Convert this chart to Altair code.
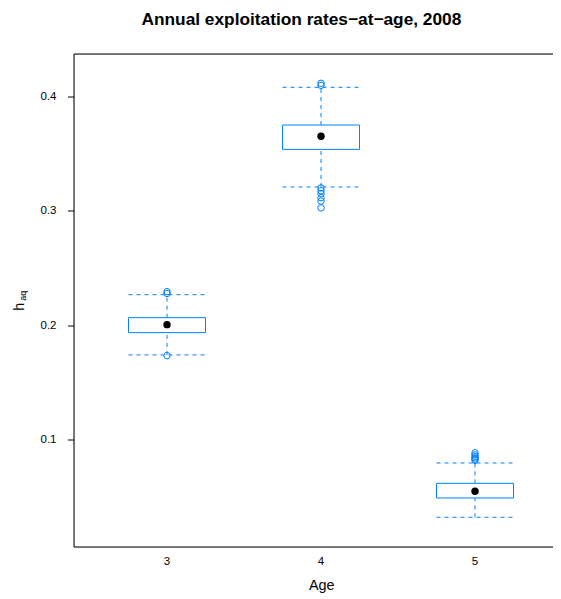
import altair as alt
import pandas as pd

# ---- data ----
ages = [3, 4, 5]
lower_whisker = [0.1744, 0.3213, 0.0324]
q1 = [0.1939, 0.3542, 0.0493]
median = [0.2009, 0.3656, 0.0551]
q3 = [0.2070, 0.3755, 0.0621]
upper_whisker = [0.2271, 0.4085, 0.0799]

outlier_age = [3, 3, 3,
               4, 4, 4, 4, 4, 4, 4, 4,
               5, 5, 5, 5, 5, 5]
outlier_value = [0.1738, 0.2282, 0.2297,
                 0.4102, 0.4120, 0.3205, 0.3180, 0.3155, 0.3120, 0.3090, 0.3030,
                 0.0822, 0.0832, 0.0843, 0.0855, 0.0870, 0.0888]

x_ticks = [3, 4, 5]
y_ticks = [0.1, 0.2, 0.3, 0.4]

title_text = "Annual exploitation rates\u2212at\u2212age, 2008"
x_title = "Age"

# ---- styling ----
BLUE = "#0080ff"
FONT = "Liberation Sans"
HALF = 0.25
W, H = 479, 493

df = pd.DataFrame({"age": ages, "lo": lower_whisker, "q1": q1, "med": median,
                   "q3": q3, "hi": upper_whisker})
df["left"] = df["age"] - HALF
df["right"] = df["age"] + HALF
out_df = pd.DataFrame({"age": outlier_age, "value": outlier_value})

x_scale = alt.Scale(domain=[2.396, 2.396 + W / 154.0], nice=False, zero=False)
y_scale = alt.Scale(domain=[0.00641, 0.43761], nice=False, zero=False)

x_axis = alt.Axis(values=x_ticks, format="d", grid=False, ticks=False, tickSize=0,
                  labelPadding=9, labelFont=FONT, labelFontSize=11.5, labelColor="black",
                  domainColor="black", domainWidth=1, translate=0,
                  title=x_title, titleFont=FONT, titleFontSize=14.4, titleFontWeight="normal",
                  titleColor="black", titleBaseline="alphabetic", titleX=247.7, titleY=43.3)
y_axis = alt.Axis(values=y_ticks, format=".1f", grid=False, tickSize=6, tickColor="black",
                  labelPadding=11.5, labelFont=FONT, labelFontSize=11.5, labelColor="black",
                  domainColor="black", domainWidth=1, translate=0, title=None)


def X(field):
    return alt.X(field, type="quantitative", scale=x_scale, axis=x_axis)


def Y(field):
    return alt.Y(field, type="quantitative", scale=y_scale, axis=y_axis)


base = alt.Chart(df)

whisk_up = base.mark_rule(color=BLUE, strokeDash=[4, 4], strokeWidth=1).encode(
    x=X("age"), y=Y("q3"), y2="hi")
whisk_dn = base.mark_rule(color=BLUE, strokeDash=[4, 4], strokeWidth=1).encode(
    x=X("age"), y=Y("lo"), y2="q1")
cap_hi = base.mark_rule(color=BLUE, strokeDash=[4, 4], strokeWidth=1).encode(
    x=X("left"), x2="right", y=Y("hi"))
cap_lo = base.mark_rule(color=BLUE, strokeDash=[4, 4], strokeWidth=1).encode(
    x=X("left"), x2="right", y=Y("lo"))
box = base.mark_rect(fill="white", stroke=BLUE, strokeWidth=1).encode(
    x=X("left"), x2="right", y=Y("q1"), y2="q3")
med = base.mark_point(shape="circle", filled=True, color="black", size=55, opacity=1).encode(
    x=X("age"), y=Y("med"))
outl = alt.Chart(out_df).mark_point(shape="circle", filled=False, color=BLUE, size=42,
                                    strokeWidth=1, opacity=1).encode(
    x=X("age"), y=Y("value"))

deco = alt.Chart(pd.DataFrame({"t": [title_text], "h": ["h"], "s": ["aq"]}))
top_border = deco.mark_rule(color="black", strokeWidth=1).encode(
    x=alt.value(0), x2=alt.value(W), y=alt.value(0))
title = deco.mark_text(font=FONT, fontSize=17.3, fontWeight="bold", color="black",
                       align="center", baseline="alphabetic").encode(
    text="t:N", x=alt.value(227.4), y=alt.value(-28.7))
y_h = deco.mark_text(font=FONT, fontSize=14.4, color="black", angle=270,
                     align="left", baseline="alphabetic").encode(
    text="h:N", x=alt.value(-50), y=alt.value(256.7))
y_s = deco.mark_text(font=FONT, fontSize=9, color="black", angle=270,
                     align="left", baseline="alphabetic").encode(
    text="s:N", x=alt.value(-48.3), y=alt.value(246.7))

chart = alt.layer(whisk_up, whisk_dn, cap_hi, cap_lo, box, med, outl,
                  top_border, title, y_h, y_s).properties(
    width=W, height=H,
    autosize=alt.AutoSizeParams(type="none"),
    padding={"left": 66, "top": 46, "right": 0, "bottom": 52},
).configure_view(stroke=None).configure(background="white")

chart.save("out.html", embed_options={"renderer": "svg", "actions": False})
